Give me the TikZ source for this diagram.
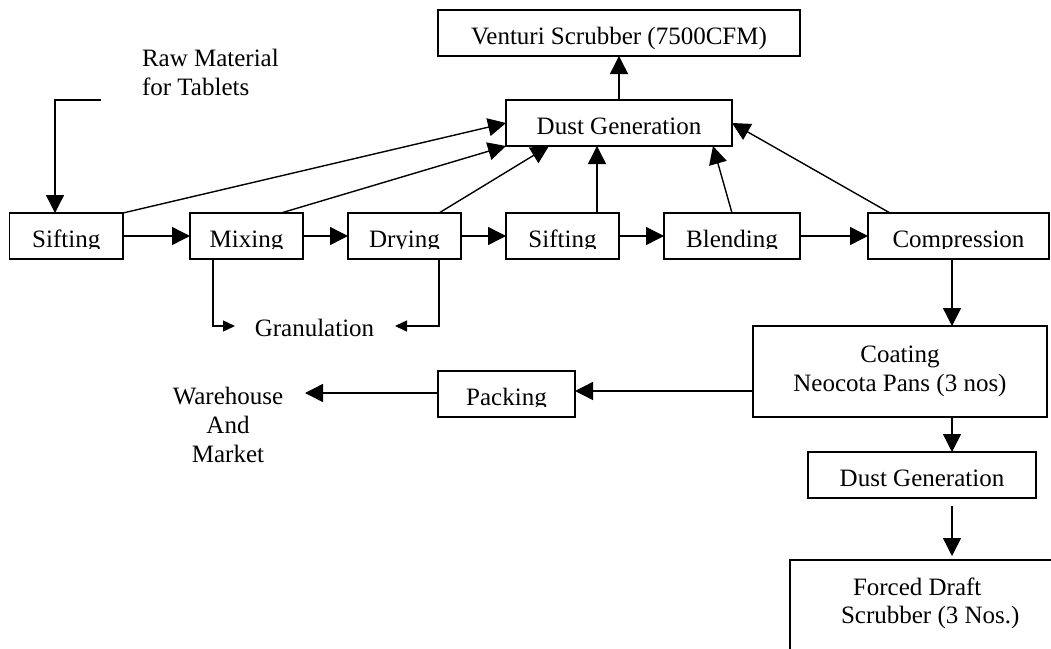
\documentclass[tikz,border=0pt]{standalone}
\usepackage{fontspec}
\setmainfont{Liberation Serif}
\usetikzlibrary{arrows.meta,calc}
\begin{document}
\begin{tikzpicture}[x=1pt,y=-1pt,
  every node/.style={font=\fontsize{25}{29}\selectfont, inner sep=0pt, outer sep=0pt},
  proc/.style={draw, line width=1.4pt, text height=22pt, text depth=0pt, minimum height=46pt},
  flow/.style={line width=1.4pt, -{Triangle[length=18pt,width=18pt]}},
  small flow/.style={line width=1.4pt, -{Triangle[length=12pt,width=11pt]}},
  plain/.style={line width=1.4pt}]
\useasboundingbox (0,0) rectangle (1051,648);

% process boxes
\node[proc, minimum width=362pt] (ven) at (619,33) {Venturi Scrubber (7500CFM)};
\node[proc, minimum width=226pt] (dg) at (619,123) {Dust Generation};
\node[proc, minimum width=113.5pt] (s1) at (66.25,236) {Sifting};
\node[proc, minimum width=113pt] (mix) at (246.5,236) {Mixing};
\node[proc, minimum width=113pt] (dry) at (404.5,236) {Drying};
\node[proc, minimum width=113pt] (s2) at (562.5,236) {Sifting};
\node[proc, minimum width=136pt] (blend) at (732,236) {Blending};
\node[proc, minimum width=181pt] (comp) at (958.5,236) {Compression};
\node[draw, line width=1.4pt, minimum width=294pt, minimum height=91pt, align=center]
  (coat) at (900,371.5) {Coating\\Neocota Pans (3 nos)};
\node[proc, minimum width=137pt] (pack) at (506.5,394) {Packing};
\node[proc, minimum width=228pt] (dg2) at (922,475) {Dust Generation};

% descenders of the one-line labels are cut off at the box bottom
\foreach \b in {s1,mix,dry,s2,blend,comp,pack}
  \fill[white] ($(\b.south west)+(0.7,-10)$) rectangle ($(\b.south east)+(-0.7,-0.7)$);

% free labels
\node[anchor=north west, align=left] (raw) at (142,49.5) {Raw Material\\for Tablets};
\node[anchor=base] (gran) at (314.5,336.5) {Granulation};
\node[anchor=north, align=center] (wh) at (228,387) {Warehouse\\And\\Market};
\node[anchor=base west] (fd1) at (853,595) {Forced Draft};
\node[anchor=base west] (fd2) at (841,623.5) {Scrubber (3 Nos.)};

% open scrubber box at the lower right
\coordinate (fdc) at (790,560);
\draw[plain] (790,652) -- (fdc) -- (1055,560);

% free ends of connectors
\coordinate (rawin) at (101,100);
\coordinate (granL) at (235,326);
\coordinate (granR) at (395,326);
\coordinate (whin) at (305,393);
\coordinate (fdin) at (952,556);

% main line
\draw[flow] (rawin) -| ($(s1.north west)+(45.5,0)$);
\draw[flow] (s1.east) -- (mix.west);
\draw[flow] (mix.east) -- (dry.west);
\draw[flow] (dry.east) -- (s2.west);
\draw[flow] (s2.east) -- (blend.west);
\draw[flow] (blend.east) -- (comp.west);

% dust collection
\draw[flow] (s1.north east) -- (dg.west);
\draw[flow] ($(mix.north west)+(91,0)$) -- (dg.south west);
\draw[flow] ($(dry.north west)+(91,0)$) -- ($(dg.south west)+(43,0)$);
\draw[flow] ($(s2.north west)+(91,0)$) -- ($(dg.south west)+(91,0)$);
\draw[flow] (blend.north) -- ($(dg.south east)+(-19,0)$);
\draw[flow] ($(comp.north west)+(22,0)$) -- (dg.east);
\draw[flow] (dg.north) -- (ven.south);

% granulation
\draw[small flow] ($(mix.south west)+(23,0)$) |- (granL);
\draw[small flow] ($(dry.south west)+(91,0)$) |- (granR);

% coating and packing
\draw[flow] ($(coat.west |- pack.east)+(0,-3)$) -- ($(pack.east)+(0,-3)$);
\draw[flow] ($(comp.south west)+(84,0)$) -- ($(coat.north west)+(199,0)$);
\draw[flow] ($(pack.west)+(0,-1)$) -- (whin);
\draw[flow] ($(coat.south west)+(199,0)$) -- ($(dg2.north west)+(144,0)$);
\draw[flow] ($(dg2.south west)+(144,8)$) -- (fdin);
\end{tikzpicture}
\end{document}
